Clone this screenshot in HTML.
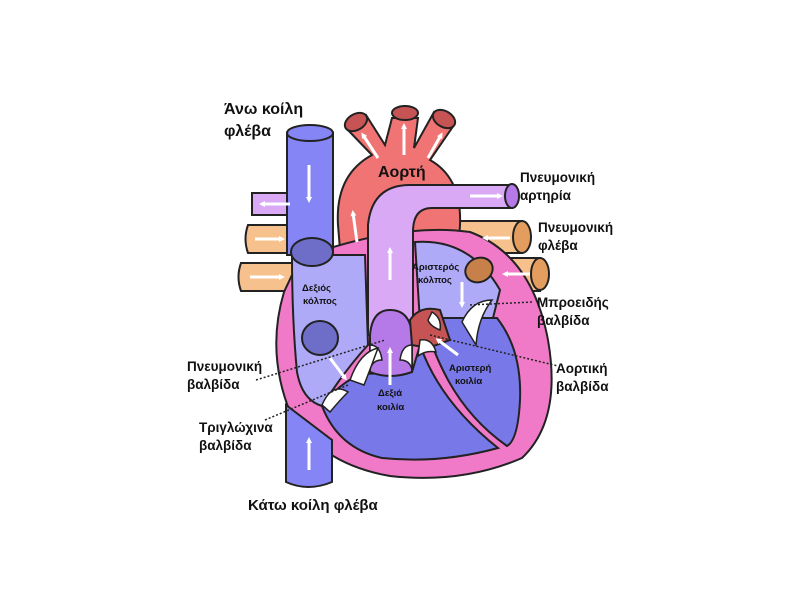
<!DOCTYPE html>
<html><head><meta charset="utf-8"><style>
body{margin:0;background:#fff;}
svg{display:block}
text{font-family:"Liberation Sans","DejaVu Sans",sans-serif;font-weight:bold;fill:#111}
</style></head><body>
<svg width="800" height="600" viewBox="0 0 800 600" xmlns="http://www.w3.org/2000/svg">
<defs>
<marker id="ah" markerWidth="6" markerHeight="6" refX="3" refY="3" orient="auto" markerUnits="userSpaceOnUse"><path d="M0,0 L6,3 L0,6 z" fill="#fff"/></marker>
</defs>
<g stroke="#222" stroke-width="2">
<path d="M252,193 L300,193 L300,215 L252,215 Z" fill="#d9a9f5"/>
<path d="M248,225 L295,225 L295,253 L248,253 Q243,239 248,225Z" fill="#f7c18e"/>
<path d="M241,263 L295,263 L295,291 L241,291 Q236,277 241,263Z" fill="#f7c18e"/>
<path d="M440,221 L522,221 L522,253 L440,253Z" fill="#f7c18e"/>
<ellipse cx="522" cy="237" rx="9" ry="16" fill="#e29d5f"/>
<path d="M460,258 L540,258 L540,291 L460,291Z" fill="#f7c18e"/>
<ellipse cx="540" cy="274" rx="9" ry="16" fill="#e29d5f"/>
<path d="M346,128 L366,115 L385,145 L392,118 L418,118 L414,148 L434,112 L454,125 L430,160 Q462,178 460,225 L455,300 L345,310 L338,225 Q335,175 372,155 Z" fill="#f07474"/>
<ellipse cx="356" cy="122" rx="12" ry="8" transform="rotate(-30 356 122)" fill="#c65454"/>
<ellipse cx="405" cy="113" rx="13" ry="7" fill="#c65454"/>
<ellipse cx="444" cy="119" rx="12" ry="8" transform="rotate(30 444 119)" fill="#c65454"/>
<!-- heart pink -->
<path d="M300,258 Q400,222 470,232 Q532,255 548,340 Q562,420 522,458 Q462,484 390,476 Q320,464 290,412 Q266,352 284,292Z" fill="#f07ac8"/>
<!-- right ventricle -->
<path d="M322,406 Q340,382 362,374 L412,372 L420,345 Q440,402 498,448 Q440,464 382,458 Q338,448 322,406Z" fill="#7878e8"/>
<!-- right atrium -->
<path d="M292,255 L365,255 L368,345 Q345,370 322,406 Q302,400 297,372 Q292,320 292,255Z" fill="#aeaaf8"/>
<!-- left atrium -->
<path d="M415,242 Q470,238 500,290 L492,322 L420,322Z" fill="#aeaaf8"/>
<!-- left ventricle -->
<path d="M432,318 L497,318 Q522,350 520,400 Q518,440 507,446 Q470,420 448,380 Q432,350 428,330Z" fill="#7878e8"/>
<path d="M287,133 L287,255 L333,255 L333,133Z" fill="#8585f5"/>
<ellipse cx="310" cy="133" rx="23" ry="8" fill="#8585f5"/>
<ellipse cx="312" cy="252" rx="21" ry="14" fill="#6e6ec8"/>
<ellipse cx="320" cy="338" rx="18" ry="17" fill="#6e6ec8"/>
<path d="M286,405 L286,482 Q308,492 332,482 L332,440 Z" fill="#8585f5"/>
<path d="M368,335 L368,225 Q372,185 410,185 L512,185 L512,208 L432,208 Q413,208 413,232 L413,335Z" fill="#d9a9f5"/>
<ellipse cx="512" cy="196" rx="7" ry="12" fill="#b57ae8"/>
<ellipse cx="479" cy="270" rx="14" ry="12" transform="rotate(-25 479 270)" fill="#c8804a"/>
<path d="M370,335 Q372,310 390,310 Q410,310 412,335 L412,372 Q390,380 370,372Z" fill="#b57ae8"/>
<path d="M410,320 Q420,305 440,310 L450,340 L428,348 L412,345Z" fill="#c65454"/>
</g>
<g fill="#fff" stroke="#222" stroke-width="1.5">
<path d="M370,345 Q380,345 382,360 Q372,360 370,370Z"/>
<path d="M412,345 Q402,345 400,360 Q410,360 412,370Z"/>
<path d="M350,380 Q360,352 378,348 Q368,375 364,385Z"/>
<path d="M322,405 Q332,382 348,392 Q340,400 330,412Z"/>
<path d="M462,322 Q472,300 492,300 Q478,318 476,345Z"/>
<path d="M432,312 Q442,318 440,330 Q430,326 428,320Z"/>
<path d="M420,340 Q432,338 436,352 Q426,350 418,356Z"/>
</g>
<g stroke="#fff" stroke-width="3" marker-end="url(#ah)">
<line x1="309" y1="165" x2="309" y2="200"/>
<line x1="309" y1="470" x2="309" y2="440"/>
<line x1="290" y1="204" x2="262" y2="204"/>
<line x1="255" y1="239" x2="282" y2="239"/>
<line x1="250" y1="277" x2="282" y2="277"/>
<line x1="470" y1="196" x2="500" y2="196"/>
<line x1="510" y1="238" x2="485" y2="238"/>
<line x1="530" y1="274" x2="505" y2="274"/>
<line x1="390" y1="280" x2="390" y2="250"/>
<line x1="357" y1="242" x2="353" y2="213"/>
<line x1="378" y1="158" x2="363" y2="135"/>
<line x1="404" y1="155" x2="404" y2="126"/>
<line x1="428" y1="158" x2="441" y2="135"/>
<line x1="390" y1="385" x2="390" y2="350"/>
<line x1="330" y1="358" x2="345" y2="378"/>
<line x1="462" y1="282" x2="462" y2="305"/>
<line x1="458" y1="355" x2="438" y2="340"/>
</g>
<g stroke="#222" stroke-width="1.5" stroke-dasharray="2,2" fill="none">
<line x1="256" y1="380" x2="385" y2="340"/>
<line x1="265" y1="420" x2="348" y2="385"/>
<line x1="470" y1="305" x2="533" y2="302"/>
<line x1="430" y1="335" x2="558" y2="366"/>
</g>
<g font-size="16">
<text x="224" y="114">Άνω κοίλη</text>
<text x="224" y="136">φλέβα</text>
<text x="378" y="177">Αορτή</text>
<text x="248" y="510" font-size="15">Κάτω κοίλη φλέβα</text>
</g>
<g font-size="13.5">
<text x="520" y="182">Πνευμονική</text>
<text x="520" y="200">αρτηρία</text>
<text x="538" y="232">Πνευμονική</text>
<text x="538" y="250">φλέβα</text>
<text x="537" y="307">Μπροειδής</text>
<text x="537" y="325">βαλβίδα</text>
<text x="556" y="373">Αορτική</text>
<text x="556" y="391">βαλβίδα</text>
<text x="187" y="371">Πνευμονική</text>
<text x="187" y="389">βαλβίδα</text>
<text x="199" y="432">Τριγλώχινα</text>
<text x="199" y="450">βαλβίδα</text>
</g>
<g font-size="9.5" fill="#222">
<text x="302" y="291">Δεξιός</text>
<text x="303" y="304">κόλπος</text>
<text x="412" y="270">Αριστερός</text>
<text x="418" y="283">κόλπος</text>
<text x="449" y="371">Αριστερή</text>
<text x="455" y="384">κοιλία</text>
<text x="378" y="396">Δεξιά</text>
<text x="377" y="410">κοιλία</text>
</g>
</svg>
</body></html>
